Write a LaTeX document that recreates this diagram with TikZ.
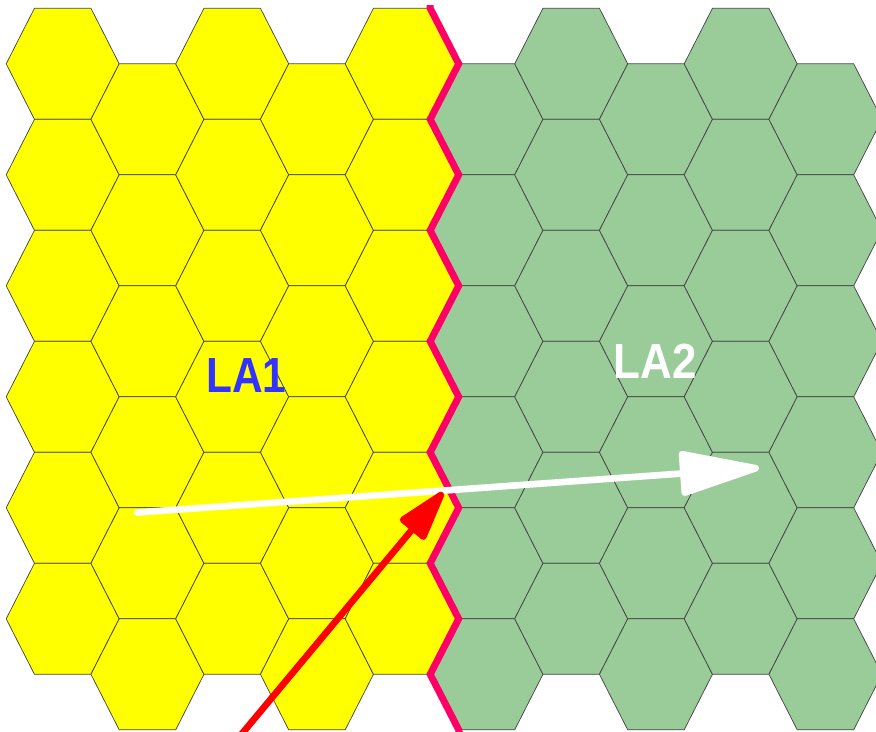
\documentclass[tikz,border=0pt]{standalone}
\usepackage{fontspec}
\setmainfont{Liberation Sans}
\usetikzlibrary{arrows.meta}

\begin{document}
\begin{tikzpicture}[x=0.75pt,y=0.75pt,yscale=-1,xscale=1,
  hexcell/.style={draw={rgb, 255:red, 70; green, 70; blue, 70 },line width=0.55pt},
  lafill/.style={fill={rgb, 255:red, 255; green, 255; blue, 0 }},
  lbfill/.style={fill={rgb, 255:red, 153; green, 204; blue, 153 }},
  laborder/.style={draw={rgb, 255:red, 255; green, 0; blue, 102 },line width=5.2pt,line join=miter},
  lalabel/.style={inner sep=0pt,font=\fontsize{37}{40}\selectfont\bfseries},
  movepath/.style={line width=5pt,line cap=round,line join=round}]
%set diagram to 876 x 732
\useasboundingbox (0,0) rectangle (876,732);
\clip (0,0) rectangle (876,732);

%Shape: Hexagon grid, 10 columns of 6 cells
\foreach \c in {0,...,9}{
  \foreach \r in {0,...,5}{
    \pgfmathsetmacro{\cx}{62.7+84.75*\c}
    \pgfmathsetmacro{\cy}{(isodd(\c) ? 119.3 : 63.8)+111*\r}
    \ifnum\c<5 \def\hexfill{lafill}\else \def\hexfill{lbfill}\fi
    \draw [hexcell,\hexfill,shift={(\cx,\cy)}] (-56.5,0) -- (-28.25,-55.5) -- (28.25,-55.5) -- (56.5,0) -- (28.25,55.5) -- (-28.25,55.5) -- cycle ;
  }
}

%Straight Lines: area border
\draw [laborder] (430.2,5) -- (430.2,8.3) \foreach \j in {0,...,5}{ -- (458.7,{63.8+111*\j}) -- (430.2,{119.3+111*\j}) } -- (458.7,729.8) -- (460,735) ;

% Text Node
\node [lalabel,color={rgb, 255:red, 51; green, 51; blue, 255 }] (la1) at (246.5,375.5) {\scalebox{0.86}[1]{LA1}};
% Text Node
\node [lalabel,color=white] (la2) at (655,361.5) {\scalebox{0.89}[1]{LA2}};

%Straight Lines: white move
\coordinate (wstart) at (137,512.5);
\coordinate (wtip) at (759,468);
\draw [movepath,white,-{Triangle[length=67pt,width=34pt,round]}] (wstart) -- (wtip) ;

%Straight Lines: red move
\coordinate (rstart) at (240,736);
\coordinate (rtip) at (443,492.5);
\draw [movepath,color={rgb, 255:red, 255; green, 0; blue, 0 },-{Triangle[length=44pt,width=25pt,round]}] (rstart) -- (rtip) ;

\end{tikzpicture}
\end{document}
